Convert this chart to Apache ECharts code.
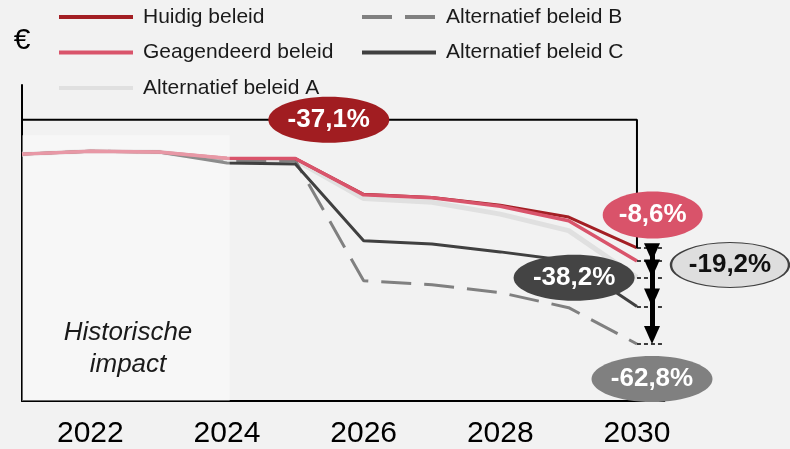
<!DOCTYPE html>
<html>
<head>
<meta charset="utf-8">
<script src="https://cdn.jsdelivr.net/npm/echarts@6/dist/echarts.min.js"></script>
<style>
html,body{margin:0;padding:0;background:#f2f2f2;}
#chart{width:790px;height:449px;}
</style>
</head>
<body>
<div id="chart"></div>
<script>
// ---- data ----
const years = [2021, 2022, 2023, 2024, 2025, 2026, 2027, 2028, 2029, 2030];
const huidig      = [100, 101.2, 100.9, 98.3, 98.2, 83.7, 82.4, 79.3, 74.5, 62.0];
const geagendeerd = [100, 101.2, 100.9, 98.3, 98.2, 83.5, 82.3, 78.9, 73.0, 56.7];
const altA        = [100, 101.2, 100.9, 97.4, 97.6, 82.0, 80.5, 75.7, 69.0, 50.1];
const altB        = [100, 101.2, 100.9, 97.0, 97.4, 48.7, 47.1, 43.9, 37.8, 23.1];
const altC        = [100, 101.2, 100.9, 96.4, 96.0, 64.9, 63.6, 60.4, 56.8, 38.3];
const seriesNames = ['Huidig beleid', 'Geagendeerd beleid', 'Alternatief beleid A', 'Alternatief beleid B', 'Alternatief beleid C'];
const xTickLabels = [2022, 2024, 2026, 2028, 2030];
const pctLabels = ['-37,1%', '-8,6%', '-19,2%', '-38,2%', '-62,8%'];
const historicEnd = 2024.04;
const historicText = 'Historische\nimpact';
const bracketTop = 113.9;
const bracketLow = 102.7;

// ---- helpers ----
const FONT = "'Liberation Sans', Arial, sans-serif";
const pair = arr => years.map((y, i) => [y, arr[i]]);
const last = arr => arr[arr.length - 1];
const lastYear = last(years);
const arrowX = lastYear + 0.22;
const tickEnd = lastYear + 0.37;
const tipOffset = 3.6; // offset so the triangle tip meets the level
const ellipse = 'path://M0,50 C0,22.4 22.4,0 50,0 C77.6,0 100,22.4 100,50 C100,77.6 77.6,100 50,100 C22.4,100 0,77.6 0,50 Z';

const levels = [last(huidig), last(geagendeerd), last(altA), last(altC), last(altB)];
const tickLines = levels.map(v => [{coord: [lastYear, v]}, {coord: [tickEnd, v]}]);
const arrowLines = levels.slice(1).map(v => [{coord: [arrowX, last(huidig)]}, {coord: [arrowX, v + tipOffset]}]);

const lbl = txt => ({show: true, position: 'inside', formatter: '{b}', color: txt, fontSize: 26, fontWeight: 'bold', fontFamily: FONT});

const markPoints = [
  {name: pctLabels[0], coord: [2025.49, bracketTop], symbolSize: [121, 46], itemStyle: {color: '#a11d21'}, label: lbl('#fff')},
  {name: pctLabels[1], coord: [lastYear + 0.23, 75.3], symbolSize: [100, 47], itemStyle: {color: '#d9536a'}, label: lbl('#fff')},
  {name: pctLabels[2], x: 730, y: 265, symbolSize: [118, 45], itemStyle: {color: '#dedede', borderColor: '#404040', borderWidth: 1.5}, label: lbl('#111')},
  {name: pctLabels[3], coord: [2029.08, 49.9], symbolSize: [121, 46], itemStyle: {color: '#444444'}, label: lbl('#fff')},
  {name: pctLabels[4], coord: [lastYear + 0.22, 8.9], symbolSize: [121, 46], itemStyle: {color: '#808080'}, label: lbl('#fff')}
];

const lineSeries = (name, data, color, width, type, z) => ({
  name, type: 'line', data: pair(data), symbol: 'none', smooth: false, z,
  lineStyle: {color, width, type: type || 'solid'}, itemStyle: {color},
  emphasis: {disabled: true}, silent: true, animation: false
});

const legendBase = {
  orient: 'vertical', top: 6, padding: 0, itemWidth: 74, itemHeight: 14, itemGap: 13.5,
  selectedMode: false,
  textStyle: {fontFamily: FONT, fontSize: 21, color: '#1a1a1a', lineHeight: 22, padding: [0, 0, 0, 5]},
  lineStyle: {width: 4},
  itemStyle: {opacity: 0, borderWidth: 0}
};

const chart = echarts.init(document.getElementById('chart'), null, {renderer: 'canvas'});
chart.setOption({
  backgroundColor: '#f2f2f2',
  animation: false,
  grid: {left: 22, right: 125.7, top: 85, bottom: 46},
  legend: [
    Object.assign({}, legendBase, {left: 57, data: [seriesNames[0], seriesNames[1], seriesNames[2]]}),
    Object.assign({}, legendBase, {left: 360, data: [seriesNames[3], seriesNames[4]]})
  ],
  xAxis: {
    type: 'value', min: 2021, max: 2030.4, interval: 1,
    axisLine: {show: true, lineStyle: {color: '#000', width: 2}},
    axisTick: {show: false}, splitLine: {show: false},
    axisLabel: {
      margin: 18, fontSize: 30, color: '#000', fontFamily: FONT,
      formatter: v => (xTickLabels.indexOf(v) >= 0 ? String(v) : '')
    }
  },
  yAxis: {
    type: 'value', min: 0, max: 128,
    name: '€', nameLocation: 'end', nameGap: 29,
    nameTextStyle: {fontSize: 30, color: '#000', fontFamily: FONT},
    axisLine: {show: true, lineStyle: {color: '#000', width: 2}},
    axisTick: {show: false}, axisLabel: {show: false}, splitLine: {show: false}
  },
  series: [
    lineSeries(seriesNames[2], altA, '#e0e0e0', 5, 'solid', 2),
    lineSeries(seriesNames[3], altB, '#808080', 3, [30, 13], 2),
    lineSeries(seriesNames[4], altC, '#404040', 3, 'solid', 2),
    lineSeries(seriesNames[0], huidig, '#a31f24', 3, 'solid', 2),
    lineSeries(seriesNames[1], geagendeerd, '#d9546b', 3.5, 'solid', 2),
    {
      name: 'bracket', type: 'line', symbol: 'none', silent: true, z: 3, animation: false,
      data: [[years[0], bracketLow], [years[0], bracketTop], [lastYear, bracketTop], [lastYear, last(huidig)]],
      lineStyle: {color: '#000', width: 2},
      markArea: {
        silent: true, z: 10,
        itemStyle: {color: 'rgba(255,255,255,0.4)'},
        data: [[{coord: [years[0], 107.6]}, {coord: [historicEnd, 0]}]]
      },
      markLine: {
        silent: true, z: 6, symbol: ['none', 'none'], animation: false,
        label: {show: false},
        lineStyle: {color: '#000', width: 1.5, type: [4, 3]},
        data: tickLines
      }
    },
    {
      name: 'arrows', type: 'line', data: [], symbol: 'none', silent: true, z: 4, animation: false,
      markLine: {
        silent: true, z: 7, symbol: ['none', 'triangle'], symbolSize: [16, 18], animation: false,
        label: {show: false},
        lineStyle: {color: '#000', width: 5, type: 'solid', opacity: 1},
        itemStyle: {color: '#000'},
        data: arrowLines
      },
      markPoint: {
        silent: true, z: 8, symbol: ellipse, animation: false,
        data: markPoints
      }
    }
  ],
  graphic: [{
    type: 'text', x: 128, y: 349, z: 100, silent: true,
    style: {
      text: historicText, fill: '#1a1a1a', fontSize: 26, fontStyle: 'italic', fontFamily: FONT,
      align: 'center', verticalAlign: 'middle', lineHeight: 32
    }
  }]
});
</script>
</body>
</html>
